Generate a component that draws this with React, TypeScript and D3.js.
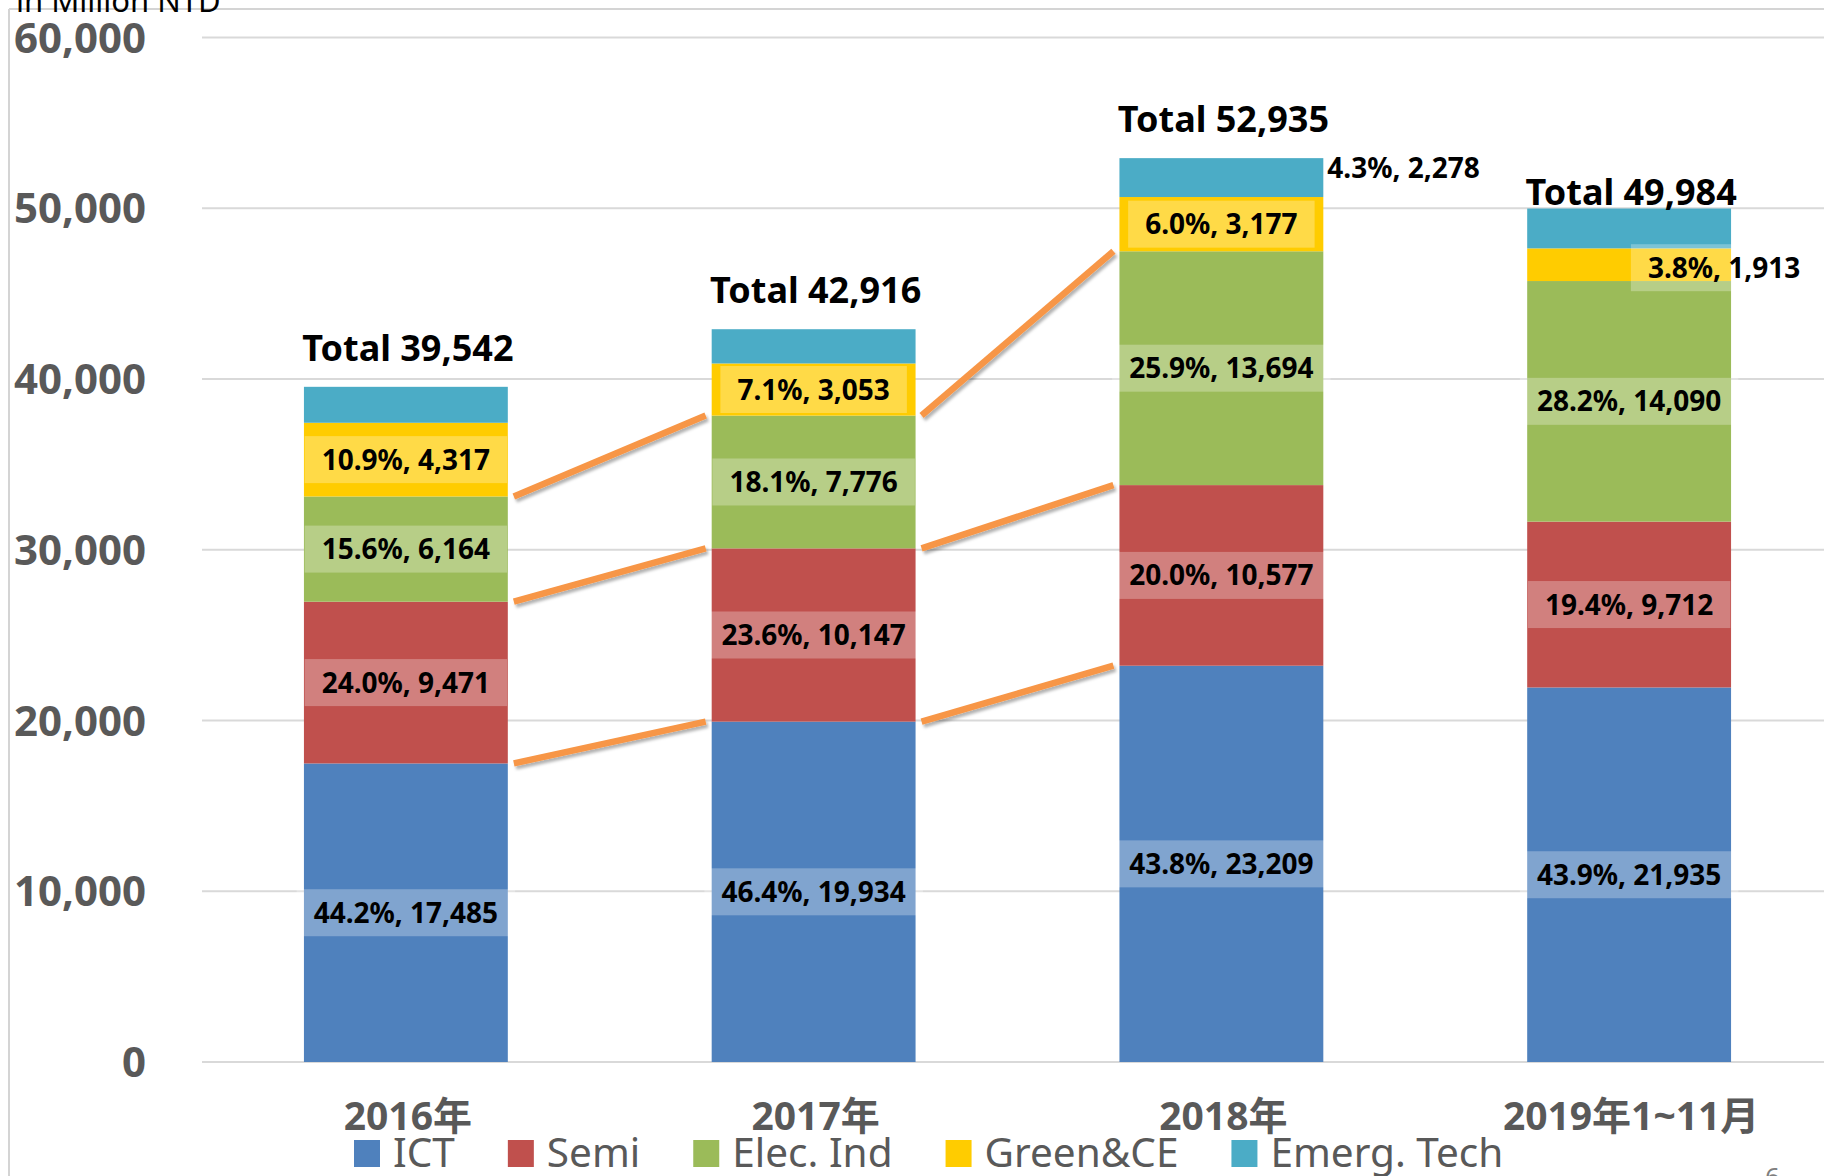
import React, { useEffect, useRef } from 'react';
import * as d3 from 'd3';

const categories = ['2016年', '2017年', '2018年', '2019年1~11月'];
const seriesNames = ['ICT', 'Semi', 'Elec. Ind', 'Green&CE', 'Emerg. Tech'];
const seriesColors = ['#4F81BD', '#C0504D', '#9BBB59', '#FFCC00', '#4BACC6'];
const ictValues = [17485, 19934, 23209, 21935];
const semiValues = [9471, 10147, 10577, 9712];
const elecValues = [6164, 7776, 13694, 14090];
const greenValues = [4317, 3053, 3177, 1913];
const emergValues = [2105, 2006, 2278, 2334];
const totals = [39542, 42916, 52935, 49984];
const ictPct = ['44.2%', '46.4%', '43.8%', '43.9%'];
const semiPct = ['24.0%', '23.6%', '20.0%', '19.4%'];
const elecPct = ['15.6%', '18.1%', '25.9%', '28.2%'];
const greenPct = ['10.9%', '7.1%', '6.0%', '3.8%'];
const emergPct = [null, null, '4.3%', null];
const yTicks = [0, 10000, 20000, 30000, 40000, 50000, 60000];
const yTitle = 'in Million NTD';
const pageNumber = '6';

const W = 1824;
const H = 1176;
const FONT = '"Noto Sans", "Open Sans", "Noto Sans CJK TC", sans-serif';

export default function App() {
  const ref = useRef<SVGSVGElement>(null);

  useEffect(() => {
    const svg = d3.select(ref.current);
    svg.selectAll('*').remove();

    const valueArrays = [ictValues, semiValues, elecValues, greenValues, emergValues];
    const pctArrays = [ictPct, semiPct, elecPct, greenPct, emergPct];
    const table = categories.map((c, i) => {
      const row: any = { cat: c };
      seriesNames.forEach((s, k) => (row[s] = valueArrays[k][i]));
      return row;
    });
    const stacked = d3.stack().keys(seriesNames)(table as any);

    const x = d3.scaleBand().domain(categories).range([202, 1833]).paddingInner(0.5).paddingOuter(0.25);
    const y = d3.scaleLinear().domain([0, 60000]).range([1062, 37.5]);
    const bw = x.bandwidth();

    const defs = svg.append('defs');
    const f = defs.append('filter').attr('id', 'shadow').attr('x', '-10%').attr('y', '-30%').attr('width', '130%').attr('height', '180%');
    f.append('feDropShadow').attr('dx', 2).attr('dy', 3).attr('stdDeviation', 1.5).attr('flood-color', '#000').attr('flood-opacity', 0.3);

    svg.append('rect').attr('width', W).attr('height', H).attr('fill', '#fff');

    // frame
    svg.append('line').attr('x1', 9).attr('x2', 9).attr('y1', 9).attr('y2', H).attr('stroke', '#D4D4D4').attr('stroke-width', 2);
    svg.append('line').attr('x1', 9).attr('x2', W).attr('y1', 9).attr('y2', 9).attr('stroke', '#D4D4D4').attr('stroke-width', 2);

    // title
    svg.append('text').attr('x', 16).attr('y', 12).attr('font-family', FONT).attr('font-size', 31).attr('fill', '#000').text(yTitle);

    // gridlines
    svg.append('g').selectAll('line').data(yTicks).join('line')
      .attr('x1', 202).attr('x2', W).attr('y1', (d) => y(d)).attr('y2', (d) => y(d))
      .attr('stroke', '#D9D9D9').attr('stroke-width', 2);

    // y tick labels
    svg.append('g').selectAll('text').data(yTicks).join('text')
      .attr('x', 146).attr('y', (d) => y(d)).attr('dy', '0.36em')
      .attr('text-anchor', 'end').attr('font-family', FONT).attr('font-weight', 'bold')
      .attr('font-size', 42).attr('fill', '#595959').text((d) => d3.format(',')(d));

    // bars
    const gBars = svg.append('g');
    stacked.forEach((layer, k) => {
      gBars.append('g').selectAll('rect').data(layer).join('rect')
        .attr('x', (d: any) => x(d.data.cat)!)
        .attr('width', bw)
        .attr('y', (d) => y(d[1]))
        .attr('height', (d) => y(d[0]) - y(d[1]))
        .attr('fill', seriesColors[k]);
    });

    // connector lines (ICT, Semi, Elec boundaries) between first three bars
    const gLines = svg.append('g').attr('filter', 'url(#shadow)');
    for (let i = 0; i < 2; i++) {
      for (let k = 0; k < 3; k++) {
        const x1 = x(categories[i])! + bw + 6;
        const x2 = x(categories[i + 1])! - 6;
        const y1 = y(stacked[k][i][1]);
        const y2 = y(stacked[k][i + 1][1]);
        gLines.append('line').attr('x1', x1).attr('y1', y1).attr('x2', x2).attr('y2', y2)
          .attr('stroke', '#F79646').attr('stroke-width', 6.5);
      }
    }

    // data labels
    const gLab = svg.append('g');
    stacked.forEach((layer, k) => {
      layer.forEach((d: any, i: number) => {
        const pct = pctArrays[k][i];
        if (!pct) return;
        const label = `${pct}, ${d3.format(',')(valueArrays[k][i])}`;
        const cx0 = x(categories[i])! + bw / 2;
        const cy0 = (y(d[0]) + y(d[1])) / 2;
        if (k === 4) {
          gLab.append('text').attr('x', x(categories[i])! + bw + 4).attr('y', cy0 - 10).attr('dy', '0.36em')
            .attr('font-family', FONT).attr('font-weight', 'bold').attr('font-size', 28).attr('fill', '#000')
            .text(label);
          return;
        }
        const cx = k === 3 && i === 3 ? cx0 + 95 : cx0;
        const cy = k === 3 && i === 3 ? cy0 + 3 : cy0;
        const rect = gLab.append('rect').attr('fill', '#fff').attr('fill-opacity', 0.28);
        const t = gLab.append('text').attr('x', cx).attr('y', cy).attr('dy', '0.36em').attr('text-anchor', 'middle')
          .attr('font-family', FONT).attr('font-weight', 'bold').attr('font-size', 28).attr('fill', '#000')
          .text(label);
        const tw = (t.node() as SVGTextElement).getComputedTextLength();
        rect.attr('x', cx - tw / 2 - 17).attr('width', tw + 34).attr('y', cy - 23.5).attr('height', 47);
      });
    });

    // totals
    svg.append('g').selectAll('text').data(totals).join('text')
      .attr('x', (d, i) => x(categories[i])! + bw / 2 + 2)
      .attr('y', (d, i) => y(d) - (i === 3 ? 4 : 26))
      .attr('text-anchor', 'middle').attr('font-family', FONT).attr('font-weight', 'bold')
      .attr('font-size', 36).attr('fill', '#000').text((d) => `Total ${d3.format(',')(d)}`);

    // x labels
    svg.append('g').selectAll('text').data(categories).join('text')
      .attr('x', (d) => x(d)! + bw / 2 + 2).attr('y', 1130)
      .attr('text-anchor', 'middle').attr('font-family', FONT).attr('font-weight', 'bold')
      .attr('font-size', 39).attr('fill', '#595959').text((d) => d);

    // legend
    const gLeg = svg.append('g');
    let lx = 354;
    seriesNames.forEach((s, k) => {
      gLeg.append('rect').attr('x', lx).attr('y', 1140).attr('width', 26).attr('height', 27).attr('fill', seriesColors[k]);
      const t = gLeg.append('text').attr('x', lx + 39).attr('y', 1167).attr('font-family', FONT)
        .attr('font-size', 40.5).attr('fill', '#595959').text(s);
      const tw = (t.node() as SVGTextElement).getComputedTextLength();
      lx = lx + 39 + tw + 53;
    });

    // page number
    svg.append('text').attr('x', 1765).attr('y', 1186).attr('font-family', FONT).attr('font-size', 26)
      .attr('fill', '#7F7F7F').text(pageNumber);
  }, []);

  return (
    <svg ref={ref} width={W} height={H} style={{ position: 'absolute', left: 0, top: 0, display: 'block' }} />
  );
}
